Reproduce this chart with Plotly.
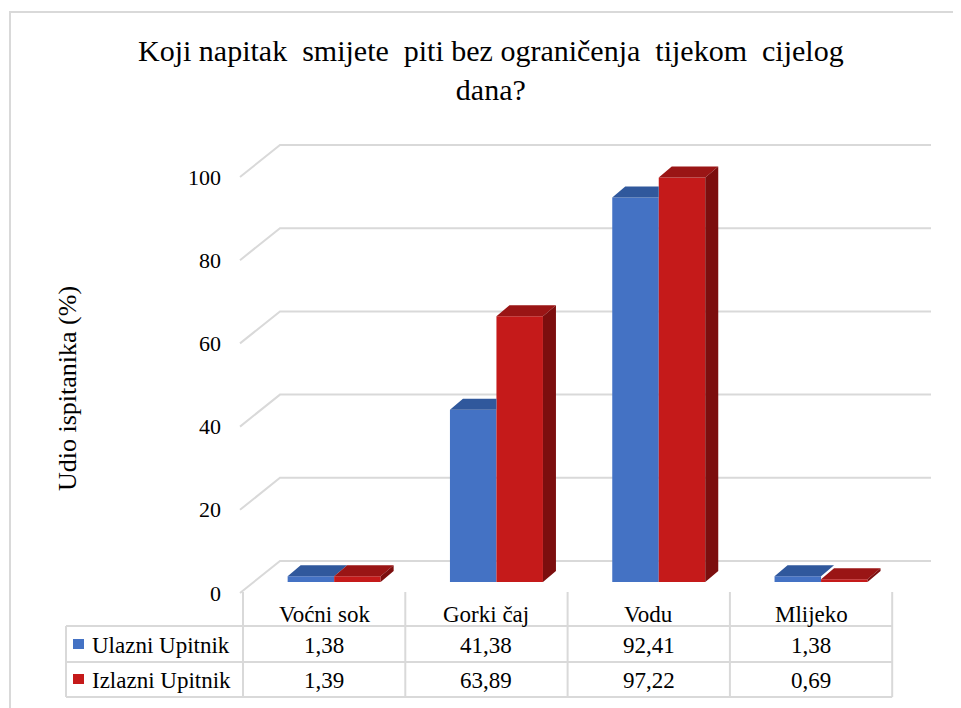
import plotly.graph_objects as go

# ---------------- data ----------------
categories = ["Voćni sok", "Gorki čaj", "Vodu", "Mlijeko"]
series_names = ["Ulazni Upitnik", "Izlazni Upitnik"]
ulazni = [1.38, 41.38, 92.41, 1.38]
izlazni = [1.39, 63.89, 97.22, 0.69]
y_ticks = [0, 20, 40, 60, 80, 100]

# ---------------- styling / geometry ----------------
PAGE_OFF = 8                      # default body margin of the html page
W_PX, H_PX = 961 - PAGE_OFF, 708 - PAGE_OFF
FONT = "Times New Roman, Liberation Serif, Tinos, DejaVu Serif, Noto Serif, serif"
BLUE, BLUE_TOP = "#4472C4", "#30589C"
RED, RED_TOP, RED_SIDE = "#C51A1A", "#9A1515", "#7C0E0E"
GRID = "#D9D9D9"

COL_LEFT_PX = 243.0   # page pixel of left edge of first category column
COL_W_PX = 162.3      # pixel width of a category column
ZERO_PX = 582.0       # page pixel of value 0 at bar-front plane
PX_PER_UNIT = 4.16


def xd(px):
    return (px - COL_LEFT_PX) / COL_W_PX - 0.5


def yd(py):
    return (ZERO_PX - py) / PX_PER_UNIT


def xp(px):
    return (px - PAGE_OFF) / W_PX


def yp(py):
    return 1 - (py - PAGE_OFF) / H_PX


BAR_W = 46.5 / COL_W_PX
OFF_BLUE = -36.5 / COL_W_PX
OFF_RED = OFF_BLUE + BAR_W
DX = 13 / COL_W_PX
DY = 11 / PX_PER_UNIT
FRONT_SHIFT = yd(593)   # front plane offset (labels)
BACK_SHIFT = yd(561)    # back wall offset

idx = list(range(len(categories)))

fig = go.Figure()

# front faces
fig.add_trace(go.Bar(x=idx, y=ulazni, width=BAR_W, offset=OFF_BLUE,
                     marker=dict(color=BLUE, line=dict(width=0)),
                     name=series_names[0], showlegend=False))
fig.add_trace(go.Bar(x=idx, y=izlazni, width=BAR_W, offset=OFF_RED,
                     marker=dict(color=RED, line=dict(width=0)),
                     name=series_names[1], showlegend=False))

# 3D faces computed from data
bt_x, bt_y, rt_x, rt_y, rs_x, rs_y = [], [], [], [], [], []
for i, (b, r) in enumerate(zip(ulazni, izlazni)):
    xl = i + OFF_BLUE
    xr = xl + BAR_W
    if r >= b + DY:
        bt_x += [xl, xr, xr, xl + DX, xl, None]
    else:
        bt_x += [xl, xr, xr + DX, xl + DX, xl, None]
    bt_y += [b, b, b + DY, b + DY, b, None]
    rl = i + OFF_RED
    rr = rl + BAR_W
    rt_x += [rl, rr, rr + DX, rl + DX, rl, None]
    rt_y += [r, r, r + DY, r + DY, r, None]
    rs_x += [rr, rr + DX, rr + DX, rr, rr, None]
    rs_y += [0, DY, r + DY, r, 0, None]

for xs, ys, col in [(bt_x, bt_y, BLUE_TOP), (rt_x, rt_y, RED_TOP), (rs_x, rs_y, RED_SIDE)]:
    fig.add_trace(go.Scatter(x=xs, y=ys, mode="lines", fill="toself",
                             fillcolor=col, line=dict(width=0, color=col),
                             hoverinfo="skip", showlegend=False))

shapes = []
annotations = []

# gridlines (back wall + left diagonal)
for t in y_ticks:
    shapes.append(dict(type="path", xref="x", yref="y", layer="below",
                       path=f"M {xd(240)},{t + FRONT_SHIFT} L {xd(280)},{t + BACK_SHIFT} L {xd(931)},{t + BACK_SHIFT}",
                       line=dict(color=GRID, width=2)))
    annotations.append(dict(x=xd(223), y=t + FRONT_SHIFT, xref="x", yref="y",
                            text=str(t), showarrow=False, xanchor="right", yanchor="middle",
                            font=dict(family=FONT, size=22, color="#000")))

# outer border
shapes.append(dict(type="rect", xref="paper", yref="paper", x0=xp(10), x1=xp(975),
                   y0=yp(720), y1=yp(12), line=dict(color=GRID, width=2)))

# data table
n = len(categories)
col_bounds_px = [COL_LEFT_PX + k * COL_W_PX for k in range(n + 1)]
for bx in col_bounds_px:
    shapes.append(dict(type="line", xref="paper", yref="paper", x0=xp(bx), x1=xp(bx),
                       y0=yp(592), y1=yp(697), line=dict(color=GRID, width=2)))
for hy in [626, 662, 697]:
    shapes.append(dict(type="line", xref="paper", yref="paper", x0=xp(66), x1=xp(col_bounds_px[-1]),
                       y0=yp(hy), y1=yp(hy), line=dict(color=GRID, width=2)))
shapes.append(dict(type="line", xref="paper", yref="paper", x0=xp(66), x1=xp(66),
                   y0=yp(626), y1=yp(697), line=dict(color=GRID, width=2)))

for i, c in enumerate(categories):
    annotations.append(dict(x=i, y=yp(614), xref="x", yref="paper", text=c, showarrow=False,
                            xanchor="center", yanchor="middle",
                            font=dict(family=FONT, size=23, color="#000")))

row_centers = [645, 680]
for row, (vals, name, col) in enumerate(zip([ulazni, izlazni], series_names, [BLUE, RED])):
    cy = row_centers[row]
    for i, v in enumerate(vals):
        annotations.append(dict(x=i, y=yp(cy), xref="x", yref="paper",
                                text=f"{v:.2f}".replace(".", ","), showarrow=False,
                                xanchor="center", yanchor="middle",
                                font=dict(family=FONT, size=23, color="#000")))
    annotations.append(dict(x=xp(90), y=yp(cy), xref="paper", yref="paper", text=name,
                            showarrow=False, xanchor="left", yanchor="middle",
                            font=dict(family=FONT, size=23, color="#000")))
    shapes.append(dict(type="rect", xref="paper", yref="paper", x0=xp(73), x1=xp(84),
                       y0=yp(cy + 4), y1=yp(cy - 6), fillcolor=col, line=dict(width=0)))

# title
NB = "\u00a0"
title_text = (f"Koji napitak {NB}smijete {NB}piti bez ograničenja {NB}tijekom {NB}cijelog<br>dana?")
annotations.append(dict(x=xp(491), y=yp(70), xref="paper", yref="paper", text=title_text,
                        showarrow=False, xanchor="center", yanchor="middle", align="center",
                        font=dict(family=FONT, size=30, color="#000")))

# y axis title
annotations.append(dict(x=xp(68), y=yp(388), xref="paper", yref="paper",
                        text="Udio ispitanika (%)", textangle=-90, showarrow=False,
                        xanchor="center", yanchor="middle",
                        font=dict(family=FONT, size=26, color="#000")))

fig.update_layout(
    width=W_PX, height=H_PX, autosize=False,
    margin=dict(l=0, r=0, t=0, b=0),
    paper_bgcolor="white", plot_bgcolor="white",
    barmode="overlay", showlegend=False,
    font=dict(family=FONT),
    xaxis=dict(range=[xd(PAGE_OFF), xd(961)], domain=[0, 1], visible=False, fixedrange=True),
    yaxis=dict(range=[yd(708), yd(PAGE_OFF)], domain=[0, 1], visible=False, fixedrange=True),
    shapes=shapes, annotations=annotations,
)

fig.write_html("out.html")
